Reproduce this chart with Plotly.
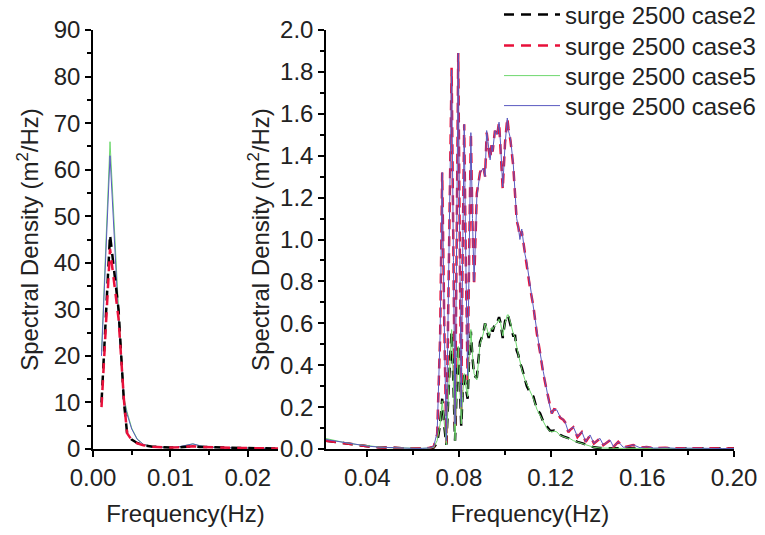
import plotly.graph_objects as go

# ---------------- data ----------------
f_left = [0.0011, 0.0022, 0.0033, 0.0040, 0.0044, 0.0050, 0.0057, 0.0065, 0.0077, 0.0090,
          0.0100, 0.0110, 0.0120, 0.0129, 0.0138, 0.0150, 0.0165, 0.0180, 0.0200, 0.0220, 0.0240]
left_case2 = [10, 46, 30, 10, 3.5, 2.0, 1.3, 0.8, 0.5, 0.35, 0.3, 0.35, 0.5, 0.6, 0.45, 0.35, 0.3, 0.25, 0.2, 0.15, 0.1]
left_case3 = [9, 43, 28, 10.5, 3.4, 1.9, 1.2, 0.8, 0.5, 0.35, 0.3, 0.35, 0.5, 0.6, 0.45, 0.35, 0.3, 0.25, 0.2, 0.15, 0.1]
left_case5 = [21, 66, 30, 11, 8, 4.5, 2.2, 1.0, 0.5, 0.35, 0.3, 0.4, 0.8, 1.1, 0.7, 0.4, 0.3, 0.25, 0.2, 0.15, 0.1]
left_case6 = [20, 63, 28, 10.5, 7.5, 4.3, 2.1, 1.0, 0.5, 0.35, 0.3, 0.45, 0.85, 1.1, 0.7, 0.4, 0.3, 0.25, 0.2, 0.15, 0.1]

f_right = [0.022, 0.026, 0.030, 0.035, 0.040, 0.045, 0.050, 0.055, 0.060, 0.064,
           0.067, 0.069, 0.0705, 0.0718, 0.0727, 0.0736, 0.0745, 0.0756, 0.0768, 0.0776,
           0.0783, 0.0790, 0.0797, 0.0804, 0.0810, 0.0816, 0.0823, 0.0830, 0.0838, 0.0845,
           0.0852, 0.0859, 0.0866, 0.0878, 0.0892, 0.0906, 0.0914, 0.0921, 0.0930, 0.0936,
           0.0943, 0.0947, 0.0957, 0.0966, 0.0975, 0.0982, 0.0991, 0.1001, 0.1011, 0.1016,
           0.1025, 0.1037, 0.1045, 0.1052, 0.1059, 0.1066, 0.1074, 0.1088, 0.1096, 0.1110,
           0.1125, 0.1140, 0.1154, 0.1168, 0.1183, 0.1197, 0.1205, 0.1215, 0.1227, 0.1241,
           0.1255, 0.1263, 0.1277, 0.1284, 0.1299, 0.1317, 0.1336, 0.1353, 0.1372, 0.1389,
           0.1415, 0.1430, 0.1459, 0.1474, 0.1495, 0.1517, 0.1540, 0.1560, 0.1590, 0.1619,
           0.1650, 0.1700, 0.1750, 0.1800, 0.1850, 0.1900, 0.1950, 0.2000]

right_case6 = [0.045, 0.038, 0.030, 0.021, 0.014, 0.009, 0.006, 0.004, 0.003, 0.003,
               0.005, 0.012, 0.08, 0.55, 1.32, 0.60, 0.04, 0.90, 1.81, 0.90,
               0.12, 1.00, 1.89, 0.90, 0.20, 0.90, 1.55, 0.90, 0.35, 0.95,
               1.51, 1.10, 0.80, 1.20, 1.32, 1.34, 1.30, 1.52, 1.42, 1.38,
               1.45, 1.42, 1.52, 1.50, 1.56, 1.45, 1.25, 1.45, 1.58, 1.52,
               1.48, 1.36, 1.22, 1.10, 1.06, 1.00, 1.05, 0.93, 0.89, 0.78,
               0.68, 0.56, 0.46, 0.37, 0.28, 0.20, 0.17, 0.19, 0.186, 0.154,
               0.14, 0.13, 0.083, 0.09, 0.106, 0.059, 0.083, 0.035, 0.067, 0.027,
               0.051, 0.019, 0.043, 0.011, 0.035, 0.008, 0.012, 0.020, 0.006, 0.011,
               0.004, 0.006, 0.003, 0.004, 0.002, 0.003, 0.002, 0.002]
right_case3 = [0.040, 0.034, 0.027, 0.019, 0.013, 0.008, 0.005, 0.004, 0.003, 0.003,
               0.005, 0.011, 0.07, 0.54, 1.32, 0.60, 0.03, 0.88, 1.82, 0.92,
               0.11, 0.98, 1.89, 0.92, 0.19, 0.92, 1.55, 0.88, 0.33, 0.96,
               1.51, 1.08, 0.78, 1.22, 1.32, 1.35, 1.30, 1.51, 1.43, 1.38,
               1.46, 1.42, 1.52, 1.49, 1.56, 1.44, 1.24, 1.46, 1.58, 1.53,
               1.47, 1.35, 1.21, 1.09, 1.06, 1.01, 1.04, 0.93, 0.88, 0.77,
               0.68, 0.55, 0.46, 0.36, 0.28, 0.20, 0.17, 0.19, 0.186, 0.150,
               0.14, 0.128, 0.080, 0.09, 0.104, 0.057, 0.081, 0.034, 0.065, 0.026,
               0.050, 0.018, 0.042, 0.010, 0.034, 0.008, 0.012, 0.019, 0.006, 0.010,
               0.004, 0.006, 0.003, 0.004, 0.002, 0.003, 0.002, 0.002]
right_case5 = [0.050, 0.040, 0.031, 0.022, 0.015, 0.010, 0.006, 0.004, 0.003, 0.003,
               0.004, 0.008, 0.04, 0.12, 0.23, 0.12, 0.02, 0.30, 0.57, 0.30,
               0.04, 0.28, 0.49, 0.30, 0.12, 0.25, 0.36, 0.30, 0.25, 0.45,
               0.57, 0.45, 0.36, 0.33, 0.50, 0.55, 0.60, 0.58, 0.54, 0.56,
               0.58, 0.57, 0.59, 0.60, 0.62, 0.60, 0.54, 0.60, 0.64, 0.64,
               0.60, 0.55, 0.53, 0.48, 0.45, 0.42, 0.38, 0.33, 0.31, 0.27,
               0.24, 0.19, 0.16, 0.13, 0.10, 0.085, 0.082, 0.085, 0.082, 0.065,
               0.059, 0.055, 0.050, 0.050, 0.040, 0.033, 0.027, 0.020, 0.012, 0.008,
               0.005, 0.004, 0.003, 0.003, 0.003, 0.003, 0.003, 0.003, 0.002, 0.002,
               0.002, 0.002, 0.002, 0.002, 0.002, 0.002, 0.002, 0.002]
right_case2 = [0.040, 0.034, 0.027, 0.019, 0.013, 0.008, 0.005, 0.004, 0.003, 0.003,
               0.004, 0.007, 0.03, 0.12, 0.24, 0.11, 0.02, 0.31, 0.56, 0.31,
               0.04, 0.29, 0.50, 0.29, 0.11, 0.26, 0.37, 0.29, 0.24, 0.46,
               0.56, 0.44, 0.35, 0.34, 0.51, 0.55, 0.60, 0.57, 0.53, 0.57,
               0.58, 0.56, 0.60, 0.60, 0.63, 0.60, 0.53, 0.61, 0.64, 0.63,
               0.59, 0.54, 0.54, 0.47, 0.45, 0.41, 0.39, 0.33, 0.30, 0.27,
               0.25, 0.19, 0.17, 0.13, 0.11, 0.088, 0.086, 0.088, 0.083, 0.068,
               0.060, 0.056, 0.052, 0.050, 0.041, 0.034, 0.028, 0.021, 0.013, 0.008,
               0.005, 0.004, 0.003, 0.003, 0.003, 0.003, 0.003, 0.003, 0.002, 0.002,
               0.002, 0.002, 0.002, 0.002, 0.002, 0.002, 0.002, 0.002]

names = ["surge 2500 case2", "surge 2500 case3", "surge 2500 case5", "surge 2500 case6"]

# ---------------- styles ----------------
FONT = "Arial, 'Liberation Sans', sans-serif"
FS = 24
styles = {
    "surge 2500 case2": dict(color="#000000", width=2.5, dash="10px,7px"),
    "surge 2500 case3": dict(color="#E8103A", width=2.5, dash="10px,7px"),
    "surge 2500 case5": dict(color="#6FD86F", width=1),
    "surge 2500 case6": dict(color="#5A5AC0", width=1),
}
legend_ids = {names[0]: "legend", names[1]: "legend2", names[2]: "legend3", names[3]: "legend4"}
legend_yc = {names[0]: 15, names[1]: 46, names[2]: 76, names[3]: 106}

left_data = {names[0]: left_case2, names[1]: left_case3, names[2]: left_case5, names[3]: left_case6}
right_data = {names[0]: right_case2, names[1]: right_case3, names[2]: right_case5, names[3]: right_case6}

left_order = [names[2], names[3], names[0], names[1]]
right_order = [names[0], names[1], names[2], names[3]]

fig = go.Figure()
for n in left_order:
    fig.add_trace(go.Scatter(x=f_left, y=left_data[n], mode="lines", name=n,
                             line=styles[n], legend=legend_ids[n], showlegend=True,
                             xaxis="x", yaxis="y"))
for n in right_order:
    fig.add_trace(go.Scatter(x=f_right, y=right_data[n], mode="lines", name=n,
                             line=styles[n], showlegend=False,
                             xaxis="x2", yaxis="y2"))

W, H = 765, 535
L, R, T, B = 93, 31, 30, 86
pw = W - L - R
ph = H - T - B

minor_style = dict(ticks="outside", ticklen=4, tickcolor="black", tickwidth=1.5)
axis_common = dict(
    showline=True, linecolor="black", linewidth=1.5, mirror=False,
    ticks="outside", ticklen=6, tickwidth=1.5, tickcolor="black",
    showgrid=False, zeroline=False, automargin=False,
    tickfont=dict(family=FONT, size=FS, color="#222"),
    title_font=dict(family=FONT, size=FS, color="#222"),
)

legend_common = dict(xanchor="left", yanchor="middle", bgcolor="rgba(0,0,0,0)", borderwidth=0,
                     font=dict(family=FONT, size=FS, color="#222"), itemwidth=56)
legends = {}
for n in names:
    legends[legend_ids[n]] = dict(x=(499 - L) / pw, y=1 + (T - legend_yc[n]) / ph, **legend_common)

fig.update_layout(
    width=W, height=H,
    margin=dict(l=L, r=R, t=T, b=B, autoexpand=False),
    paper_bgcolor="white", plot_bgcolor="white",
    font=dict(family=FONT, color="#222"),
    xaxis=dict(domain=[0, (278 - L) / pw], range=[0, 0.0239], dtick=0.01, tick0=0,
               tickformat=".2f", minor=dict(dtick=0.005, **minor_style),
               title=dict(text="Frequency(Hz)", standoff=16), anchor="y", **axis_common),
    yaxis=dict(domain=[0, 1], range=[0, 90], dtick=10, tick0=0,
               minor=dict(dtick=5, **minor_style),
               title=dict(text="Spectral Density (m<sup>2</sup>/Hz)", standoff=8), anchor="x", **axis_common),
    xaxis2=dict(domain=[(326 - L) / pw, 1], range=[0.022, 0.2], dtick=0.04, tick0=0,
                tickformat=".2f", minor=dict(dtick=0.02, **minor_style),
                title=dict(text="Frequency(Hz)", standoff=16), anchor="y2", **axis_common),
    yaxis2=dict(domain=[0, 1], range=[0, 2.0], dtick=0.2, tick0=0, tickformat=".1f",
                minor=dict(dtick=0.1, **minor_style),
                title=dict(text="Spectral Density (m<sup>2</sup>/Hz)", standoff=4), anchor="x2", **axis_common),
    showlegend=True,
    **legends,
)

fig.write_html("out.html")
